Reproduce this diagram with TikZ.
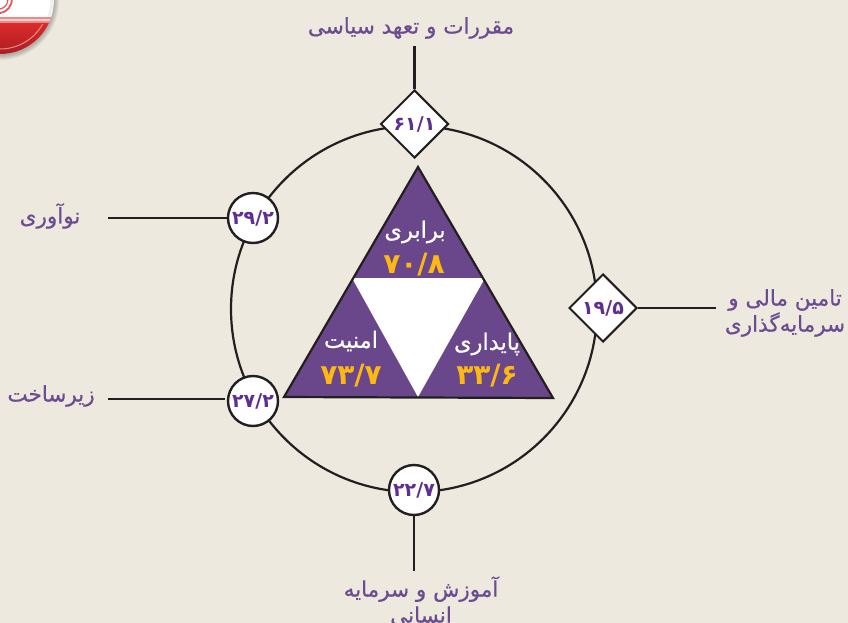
\documentclass[tikz,border=0pt]{standalone}
\usepackage{fontspec}
\usetikzlibrary{shapes.geometric}
\TeXXeTstate=1
\newfontfamily\arabicfont[Script=Arabic,FakeBold=0.6]{DejaVu Sans}
\newfontfamily\arabicnum[Script=Arabic]{DejaVu Sans Bold}
\newcommand{\rtl}[1]{\beginR #1\endR}
\definecolor{bgc}{HTML}{EDE9DF}
\definecolor{triP}{HTML}{69478A}
\definecolor{labP}{HTML}{6B4C90}
\definecolor{numP}{HTML}{5F2E92}
\definecolor{gold}{HTML}{FDB813}
\definecolor{inkc}{HTML}{231F20}
\definecolor{flagR}{HTML}{D92B2B}
\definecolor{flagD}{HTML}{A81C20}
\definecolor{flagP}{HTML}{E88C8C}
\tikzset{
  lab/.style={text=labP,font=\arabicfont\fontsize{21.5}{26}\selectfont,align=center,inner sep=0pt},
  val/.style={text=numP,font=\arabicnum\fontsize{19}{22}\selectfont,inner sep=0pt},
  badgeC/.style={circle,draw=inkc,line width=2.4pt,fill=white,minimum size=50pt},
  badgeD/.style={diamond,aspect=1,draw=inkc,line width=2pt,fill=white,minimum size=68pt},
  conn/.style={draw=inkc,line width=2.2pt},
  tname/.style={text=white,font=\arabicfont\fontsize{22.5}{24}\selectfont,inner sep=0pt},
  tval/.style={text=gold,font=\arabicnum\fontsize{28}{30}\selectfont,inner sep=0pt},
}
\begin{document}
\begin{tikzpicture}[x=1pt,y=-1pt]
\useasboundingbox (0,0) rectangle (848,623);
\clip (0,0) rectangle (848,623);
\fill[bgc] (0,0) rectangle (848,623);
% flag
\foreach \r in {59,58,57,56,55} {\fill[black,opacity=.05] (0,1) circle (\r);}
\begin{scope}
\clip (0,0) circle (54);
\fill[white] (-60,-60) rectangle (60,18);
\fill[black,opacity=.06] (0,0) circle (54);
\fill[white] (0,0) circle (50);
\fill[flagP] (-60,17) rectangle (60,24);
\fill[white,opacity=.55] (-60,19.5) rectangle (60,21.5);
\shade[top color=flagR,bottom color=flagD] (-60,24) rectangle (60,56);
\begin{scope}
\clip (-60,25) rectangle (60,60);
\draw[flagP,line width=1pt] (0,0) circle (49);
\end{scope}
\draw[flagR!80!white,line width=1.8pt] (0,13) .. controls (8,12) and (12,5) .. (12,-1);
\draw[flagR!80!white,line width=1.2pt] (0,9) .. controls (5,8) and (8,4) .. (8,-1);
\end{scope}
% ring
\node[circle,draw=inkc,line width=2.2pt,minimum size=366pt,inner sep=0pt] (ring) at (414,309) {};
% triangle
\coordinate (A) at (418,167);
\coordinate (B) at (284,397);
\coordinate (C) at (553,398);
\coordinate (L) at (352,278);
\coordinate (R) at (485,278);
\coordinate (D) at (418,397);
\fill[triP] (A) -- (B) -- (C) -- cycle;
\fill[white] (L) -- (R) -- (D) -- cycle;
\draw[inkc,line width=2.2pt,line join=miter] (A) -- (B) -- (C) -- cycle;
\node[tname] at (415,232) {\rtl{برابری}};
\node[tval] at (414,265) {۷۰/۸};
\node[tname] at (351,341) {\rtl{امنیت}};
\node[tval] at (351,376) {۷۳/۷};
\node[tname] at (487,344) {\rtl{پایداری}};
\node[tval] at (487,376) {۳۳/۶};
% badges
\node[badgeD,val] (b1) at (414.5,124) {۶۱/۱};
\node[badgeD,val] (b2) at (603,308) {۱۹/۵};
\node[badgeC,val] (b3) at (414,490) {۲۲/۷};
\node[badgeC,val] (b4) at (253,401) {۲۷/۲};
\node[badgeC,val] (b5) at (253,218) {۲۹/۲};
% labels
\node[lab] (l1) at (411,28) {\rtl{مقررات و تعهد سیاسی}};
\node[lab] (l2) at (785,313) {\rtl{تامین مالی و}\\\rtl{سرمایه‌گذاری}};
\node[lab] (l3) at (421,601) {\rtl{آموزش و سرمایه}\\\rtl{انسانی}};
\node[lab] (l4) at (51,396) {\rtl{زیرساخت}};
\node[lab] (l5) at (50,216) {\rtl{نوآوری}};
% connectors
\coordinate (c1) at (414.5,46);
\coordinate (c2) at (716,308);
\coordinate (c3) at (414,571);
\coordinate (c4) at (108,399);
\coordinate (c4e) at (225,399);
\coordinate (c5) at (108,218);
\draw[conn] (c1) -- (b1.north);
\draw[conn] (b2.east) -- (c2);
\draw[conn] (b3.south) -- (c3);
\draw[conn] (c4) -- (c4e);
\draw[conn] (c5) -- (b5.west);
\end{tikzpicture}
\end{document}
